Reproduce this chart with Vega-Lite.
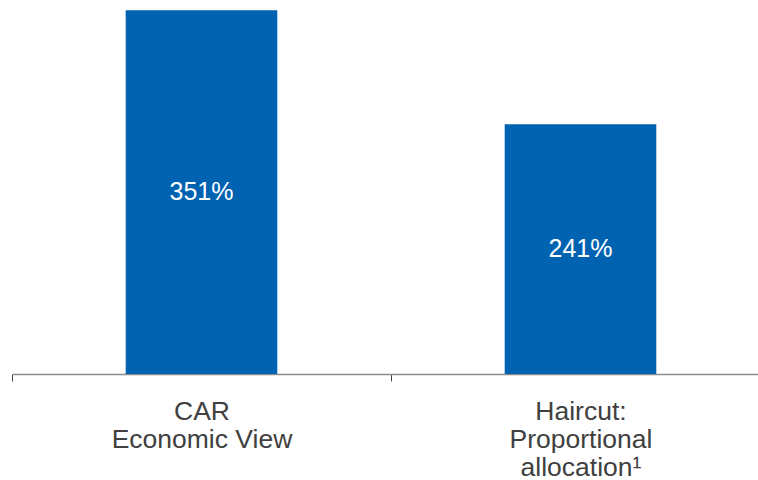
{
  "$schema": "https://vega.github.io/schema/vega-lite/v6.json",
  "width": 758,
  "height": 374,
  "autosize": {"type": "none"},
  "padding": {"left": 12, "top": 0, "right": 0, "bottom": 106},
  "background": "white",
  "config": {"view": {"stroke": null}, "font": "Liberation Sans"},
  "data": {"values": [
    {"category": "CAR|Economic View", "value": 351, "label": "351%"},
    {"category": "Haircut:|Proportional|allocation¹", "value": 241, "label": "241%"}
  ]},
  "encoding": {
    "x": {
      "field": "category", "type": "nominal", "sort": null,
      "scale": {"paddingInner": 0, "paddingOuter": 0},
      "axis": {
        "title": null, "labelAngle": 0, "labelLimit": 0, "labelOverlap": false,
        "labelExpr": "isValid(datum.value) ? split(datum.value, '|') : ''",
        "labelFont": "Liberation Sans", "labelFontSize": 26.5, "labelColor": "#404040",
        "labelLineHeight": 28, "labelPadding": 17, "labelBaseline": "top",
        "domainColor": "#8c8c8c", "domainWidth": 1.5,
        "tickColor": "#404040", "tickSize": 7, "tickWidth": 1, "tickBand": "extent"
      }
    }
  },
  "layer": [
    {
      "mark": {"type": "bar", "color": "#0063B1", "width": {"band": 0.4}},
      "encoding": {
        "y": {"field": "value", "type": "quantitative", "scale": {"domain": [0, 361], "nice": false}, "axis": null}
      }
    },
    {
      "mark": {"type": "text", "color": "white", "font": "Liberation Sans", "fontSize": 25, "baseline": "middle"},
      "encoding": {
        "y": {"field": "value", "type": "quantitative", "scale": {"domain": [0, 722], "nice": false}, "axis": null},
        "text": {"field": "label"}
      }
    }
  ],
  "resolve": {"scale": {"y": "independent"}}
}
